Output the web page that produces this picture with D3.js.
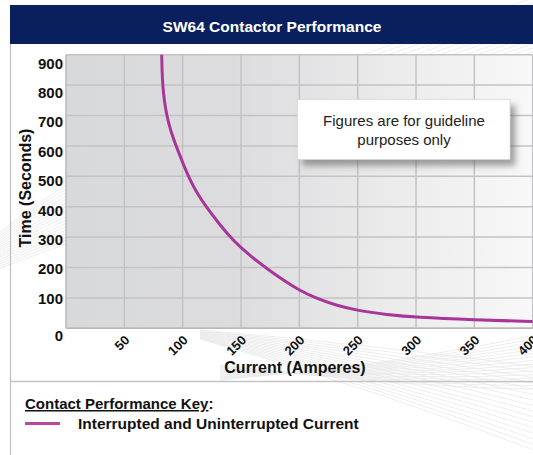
<!DOCTYPE html>
<html><head><meta charset="utf-8">
<script src="https://cdn.jsdelivr.net/npm/d3@7"></script>
<style>
html,body{margin:0;padding:0;background:#fff;}
svg{display:block;font-family:"Liberation Sans",Arial,sans-serif;}
</style></head>
<body>
<svg id="c" width="533" height="455"></svg>
<script>
// ---- data ----
const currentAmps = [82, 82.3, 82.9, 84.2, 86.3, 89.7, 94.3, 100, 106, 113, 121, 130, 140, 150, 161, 172, 186, 200, 215, 230, 250, 275, 300, 350, 400];
const timeSeconds = [900, 850, 800, 750, 700, 650, 600, 545, 490, 440, 395, 350, 303, 265, 229, 197, 159, 125, 98, 77, 58, 45, 36, 28, 22];
const xTicks = [50, 100, 150, 200, 250, 300, 350, 400];
const yTicks = [0, 100, 200, 300, 400, 500, 600, 700, 800, 900];
const chartTitle = "SW64 Contactor Performance";
const xTitle = "Current (Amperes)";
const yTitle = "Time (Seconds)";
const noteLines = ["Figures are for guideline", "purposes only"];
const keyTitle = "Contact Performance Key";
const seriesName = "Interrupted and Uninterrupted Current";

const svg = d3.select("#c");
const W = 533, H = 455;
const plot = {left: 66, top: 54.7, right: 532.7, bottom: 328.3};
const x = d3.scaleLinear().domain([0, 400]).range([plot.left, plot.right]);
const y = d3.scaleLinear().domain([0, 900]).range([plot.bottom, plot.top]);
const lineColor = "#a8369a";

const defs = svg.append("defs");
const grad = defs.append("linearGradient").attr("id", "bg").attr("x1", "0").attr("x2", "1").attr("y1", "0").attr("y2", "0");
grad.append("stop").attr("offset", "0%").attr("stop-color", "#d8d9db");
grad.append("stop").attr("offset", "35%").attr("stop-color", "#dcdcde");
grad.append("stop").attr("offset", "100%").attr("stop-color", "#f8f8f8");
const sh = defs.append("filter").attr("id", "sh").attr("x", "-20%").attr("y", "-20%").attr("width", "150%").attr("height", "160%");
sh.append("feDropShadow").attr("dx", 5).attr("dy", 6).attr("stdDeviation", 3).attr("flood-color", "#555").attr("flood-opacity", 0.55);
const clip = defs.append("clipPath").attr("id", "pc");
clip.append("rect").attr("x", plot.left).attr("y", plot.top - 1).attr("width", plot.right - plot.left + 5).attr("height", plot.bottom - plot.top + 2);

// page background
svg.append("rect").attr("width", W).attr("height", H).attr("fill", "#fff");

// decorative swooshes (background texture)
const deco = svg.append("g").attr("fill", "none").attr("stroke", "#e8e8ea").attr("stroke-width", 0.8);
d3.range(18).forEach(i => {
  deco.append("path").attr("d", `M-20,${250 + i * 1.5} Q 100,${130 + i * 6} 560,${-10 + i * 4}`);
});
d3.range(16).forEach(i => {
  deco.append("path").attr("d", `M200,${330 + i * 0.6} Q 380,${345 + i * 3} 560,${370 + i * 6}`);
  deco.append("path").attr("d", `M220,${380 - i * 1} Q 400,${365 + i * 1.5} 560,${330 + i * 4}`);
});

// panel borders
svg.append("line").attr("x1", 10.5).attr("x2", 10.5).attr("y1", 44).attr("y2", H).attr("stroke", "#bdbdbd").attr("stroke-width", 1.2);
svg.append("line").attr("x1", 10).attr("x2", W).attr("y1", 381.5).attr("y2", 381.5).attr("stroke", "#c4c4c4").attr("stroke-width", 1.5);

// title bar
svg.append("rect").attr("x", 10).attr("y", 5).attr("width", W - 10).attr("height", 39).attr("fill", "#0a205e");
svg.append("text").attr("x", 272).attr("y", 31.5).attr("text-anchor", "middle").attr("fill", "#fff")
  .attr("font-weight", "bold").attr("font-size", "15.5px").text(chartTitle);

// plot background
svg.append("rect").attr("x", plot.left).attr("y", plot.top).attr("width", plot.right - plot.left)
  .attr("height", plot.bottom - plot.top).attr("fill", "url(#bg)");

// grid
const grid = svg.append("g").attr("stroke", "#c3c3c5").attr("stroke-width", 1.5);
yTicks.forEach(t => grid.append("line").attr("x1", plot.left).attr("x2", plot.right).attr("y1", y(t)).attr("y2", y(t)));
xTicks.forEach(t => grid.append("line").attr("x1", x(t)).attr("x2", x(t)).attr("y1", plot.top).attr("y2", plot.bottom));
svg.append("line").attr("x1", plot.left).attr("x2", plot.left).attr("y1", plot.top).attr("y2", plot.bottom).attr("stroke", "#b8b8ba").attr("stroke-width", 1.5);
svg.append("line").attr("x1", plot.left).attr("x2", plot.right).attr("y1", plot.bottom).attr("y2", plot.bottom).attr("stroke", "#b8b8ba").attr("stroke-width", 1.5);

// y tick labels (label positions slightly compressed as in reference)
const yl = d3.scaleLinear().domain([100, 900]).range([298.4, 63.3]);
svg.append("g").selectAll("text").data(yTicks).join("text")
  .attr("x", 63).attr("y", d => d === 0 ? 335.7 : yl(d)).attr("dy", "0.36em")
  .attr("text-anchor", "end").attr("font-weight", "bold").attr("font-size", "15px").attr("fill", "#111")
  .text(d => d);

// x tick labels
svg.append("g").selectAll("text").data(xTicks).join("text")
  .attr("transform", d => `translate(${x(d) + 6},341) rotate(-45)`)
  .attr("text-anchor", "end").attr("font-weight", "bold").attr("font-size", "13px").attr("fill", "#111")
  .text(d => d);

// axis titles
svg.append("text").attr("x", 295).attr("y", 372.5).attr("text-anchor", "middle").attr("font-weight", "bold")
  .attr("font-size", "16px").attr("fill", "#111").text(xTitle);
svg.append("text").attr("transform", "translate(31,188) rotate(-90)").attr("text-anchor", "middle").attr("font-weight", "bold")
  .attr("font-size", "16px").attr("fill", "#111").text(yTitle);

// curve
const pts = currentAmps.map((a, i) => [a, timeSeconds[i]]);
svg.append("path").datum(pts).attr("clip-path", "url(#pc)")
  .attr("d", d3.line().x(d => x(d[0])).y(d => y(d[1])).curve(d3.curveBasis))
  .attr("fill", "none").attr("stroke", lineColor).attr("stroke-width", 3).attr("stroke-linejoin", "round");

// note box
const nb = svg.append("g");
nb.append("rect").attr("x", 297.5).attr("y", 99.5).attr("width", 212.5).attr("height", 60)
  .attr("fill", "#fff").attr("stroke", "#d0d0d0").attr("stroke-width", 0.6).attr("filter", "url(#sh)");
nb.selectAll("text").data(noteLines).join("text")
  .attr("x", 404).attr("y", (d, i) => 125.5 + i * 19.5).attr("text-anchor", "middle")
  .attr("font-size", "15px").attr("fill", "#222").text(d => d);

// legend
const kt = svg.append("text").attr("x", 25).attr("y", 409).attr("font-weight", "bold").attr("font-size", "15px").attr("fill", "#111");
kt.append("tspan").attr("text-decoration", "underline").text(keyTitle);
kt.append("tspan").text(":");
svg.append("line").attr("x1", 25).attr("x2", 60).attr("y1", 423.5).attr("y2", 423.5).attr("stroke", "#b8479f").attr("stroke-width", 3);
svg.append("text").attr("x", 78).attr("y", 428.5).attr("font-weight", "bold").attr("font-size", "15.5px").attr("fill", "#111").text(seriesName);
</script>
</body></html>
